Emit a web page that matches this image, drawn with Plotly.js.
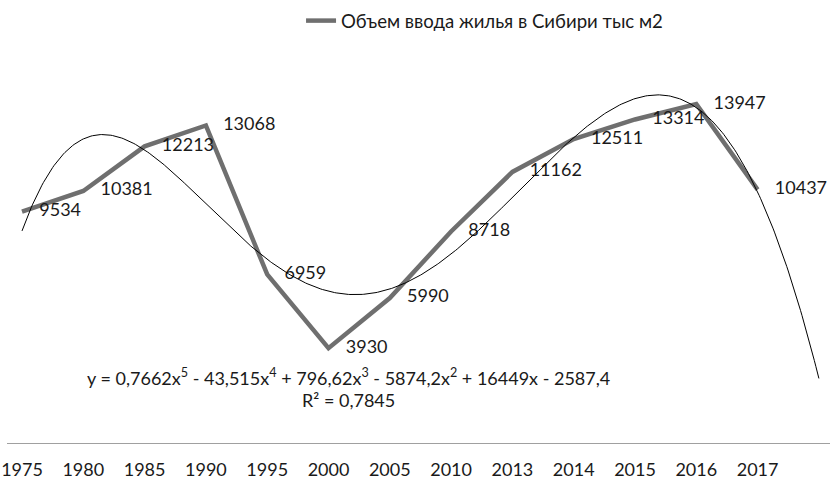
<!DOCTYPE html>
<html><head><meta charset="utf-8">
<script src="https://cdn.plot.ly/plotly-3.0.1.min.js"></script>
<style>html,body{margin:0;padding:0;background:#fff;overflow:hidden}#chart{width:830px;height:481px}</style>
</head><body><div id="chart"></div>
<script>
// ---- data ----
const years = ['1975','1980','1985','1990','1995','2000','2005','2010','2013','2014','2015','2016','2017'];
const values = [9534, 10381, 12213, 13068, 6959, 3930, 5990, 8718, 11162, 12511, 13314, 13947, 10437];
const seriesName = 'Объем ввода жилья в Сибири тыс м2';
// polynomial trendline (degree 5) as displayed on the chart, highest power first
const trendCoefficients = [0.7662, -43.515, 796.62, -5874.2, 16449, -2587.4];
const trendForwardPeriods = 1;
const equationText = 'y = 0,7662x<sup>5</sup> - 43,515x<sup>4</sup> + 796,62x<sup>3</sup> - 5874,2x<sup>2</sup> + 16449x - 2587,4';
const r2Text = 'R² = 0,7845';

// ---- derived ----
const idx = years.map((_, i) => i + 1);
const trendX = [], trendY = [];
const xEnd = years.length + trendForwardPeriods;
const steps = (xEnd - 1) * 40;
for (let k = 0; k <= steps; k++) {
  const x = 1 + k / 40;
  trendX.push(x);
  trendY.push(trendCoefficients.reduce((acc, c) => acc * x + c, 0));
}

const FONT = 'Lato, "Open Sans", sans-serif';
const pxPerCat = 61.3;
const firstPx = 22;
const W = 830;
const xRange = [1 - firstPx / pxPerCat, 1 + (W - firstPx) / pxPerCat];

const traces = [
  {
    x: idx, y: values, name: seriesName, type: 'scatter', mode: 'lines+markers+text',
    line: {color: '#6f6f6f', width: 4.5},
    marker: {size: 26, color: 'rgba(0,0,0,0)'},
    text: values.map(String), textposition: 'middle right',
    textfont: {family: FONT, size: 18, color: '#1a1a1a'},
    cliponaxis: false, hoverinfo: 'skip'
  },
  {
    x: trendX, y: trendY, type: 'scatter', mode: 'lines', showlegend: false,
    line: {color: '#000000', width: 1}, hoverinfo: 'skip'
  }
];

const layout = {
  width: 830, height: 481,
  margin: {l: 0, r: 0, t: 54, b: 37, pad: 0},
  paper_bgcolor: '#ffffff', plot_bgcolor: '#ffffff',
  font: {family: FONT, size: 18, color: '#1a1a1a'},
  showlegend: true,
  legend: {orientation: 'h', x: 0.3627, xanchor: 'left', y: 1.0846, yanchor: 'middle',
    font: {family: FONT, size: 18.6, color: '#1a1a1a'}, bgcolor: 'rgba(0,0,0,0)'},
  xaxis: {
    range: xRange, tickvals: idx, ticktext: years, showgrid: false, zeroline: false,
    showline: false, ticks: 'outside', ticklen: 9, tickcolor: 'rgba(0,0,0,0)',
    tickfont: {family: FONT, size: 18, color: '#1a1a1a'}, fixedrange: true
  },
  yaxis: {
    range: [0, 16000], visible: false, showgrid: false, zeroline: false, fixedrange: true
  },
  shapes: [
    {type: 'line', xref: 'x', yref: 'y', x0: 1 - 15 / pxPerCat, x1: xRange[1], y0: 0, y1: 0,
     line: {color: '#a0a0a0', width: 2}}
  ],
  annotations: [
    {xref: 'x', yref: 'y', x: 6.33, y: 2748, text: equationText, showarrow: false,
     xanchor: 'center', yanchor: 'middle', font: {family: FONT, size: 18, color: '#1a1a1a'}},
    {xref: 'x', yref: 'y', x: 6.33, y: 1800, text: r2Text, showarrow: false,
     xanchor: 'center', yanchor: 'middle', font: {family: FONT, size: 18, color: '#1a1a1a'}}
  ]
};

Plotly.newPlot('chart', traces, layout, {displayModeBar: false, staticPlot: true});
</script>
</body></html>
